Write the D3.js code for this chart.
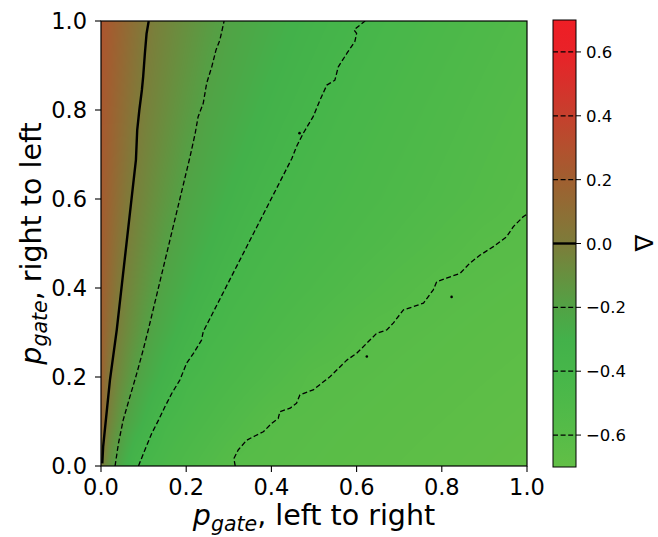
<!DOCTYPE html>
<html><head><meta charset="utf-8">
<script src="https://cdn.jsdelivr.net/npm/d3@7"></script>
<style>body{margin:0;background:#fff} svg{display:block}</style>
</head><body>
<svg id="chart" width="658" height="537"></svg>
<script>
// ---- data ----
// heat-map grid: columns xs, rows ys, values[row][col]
const xs = [0,0.02,0.04,0.06,0.08,0.1,0.125,0.15,0.2,0.25,0.3,0.35,0.4,0.45,0.5,0.55,0.6,0.65,0.7,0.8,0.9,1.0];
const ys = [0,0.1,0.2,0.3,0.4,0.5,0.6,0.7,0.8,0.9,1.0];
const row00 = [0,-0.121,-0.225,-0.298,-0.371,-0.411,-0.433,-0.455,-0.499,-0.543,-0.587,-0.605,-0.611,-0.618,-0.624,-0.631,-0.637,-0.644,-0.651,-0.664,-0.677,-0.69];
const row01 = [0.17,-0.037,-0.122,-0.204,-0.252,-0.301,-0.361,-0.407,-0.446,-0.484,-0.523,-0.561,-0.6,-0.606,-0.613,-0.619,-0.625,-0.631,-0.638,-0.65,-0.663,-0.675];
const row02 = [0.19,0.022,-0.057,-0.122,-0.187,-0.229,-0.275,-0.32,-0.404,-0.435,-0.467,-0.499,-0.53,-0.562,-0.594,-0.605,-0.611,-0.617,-0.623,-0.635,-0.648,-0.66];
const row03 = [0.2,0.082,-0.016,-0.069,-0.122,-0.175,-0.223,-0.259,-0.332,-0.402,-0.427,-0.453,-0.479,-0.505,-0.53,-0.556,-0.582,-0.602,-0.608,-0.62,-0.633,-0.645];
const row04 = [0.21,0.117,0.024,-0.033,-0.078,-0.122,-0.178,-0.218,-0.279,-0.339,-0.4,-0.421,-0.443,-0.464,-0.485,-0.506,-0.528,-0.549,-0.57,-0.604,-0.616,-0.628];
const row05 = [0.22,0.142,0.064,-0.007,-0.045,-0.084,-0.132,-0.18,-0.241,-0.293,-0.345,-0.397,-0.417,-0.435,-0.453,-0.471,-0.49,-0.508,-0.526,-0.562,-0.598,-0.61];
const row06 = [0.23,0.162,0.094,0.026,-0.021,-0.054,-0.097,-0.139,-0.213,-0.258,-0.304,-0.349,-0.395,-0.414,-0.431,-0.447,-0.464,-0.48,-0.497,-0.529,-0.562,-0.595];
const row07 = [0.24,0.179,0.119,0.058,-0.001,-0.032,-0.069,-0.107,-0.183,-0.231,-0.272,-0.312,-0.352,-0.393,-0.414,-0.43,-0.447,-0.464,-0.48,-0.513,-0.547,-0.58];
const row08 = [0.25,0.195,0.139,0.084,0.029,-0.013,-0.047,-0.081,-0.15,-0.209,-0.246,-0.282,-0.319,-0.355,-0.391,-0.413,-0.43,-0.447,-0.464,-0.497,-0.531,-0.565];
const row09 = [0.26,0.209,0.158,0.107,0.055,0.004,-0.029,-0.06,-0.122,-0.184,-0.225,-0.258,-0.291,-0.324,-0.357,-0.39,-0.412,-0.429,-0.446,-0.48,-0.514,-0.548];
const row10 = [0.27,0.222,0.174,0.127,0.079,0.031,-0.014,-0.042,-0.099,-0.157,-0.207,-0.238,-0.268,-0.298,-0.328,-0.359,-0.389,-0.411,-0.428,-0.462,-0.496,-0.53];
const values = [row00,row01,row02,row03,row04,row05,row06,row07,row08,row09,row10];

// contour lines [x, y]
const contour0 = [[0.003,0.006],[0.005,0.043],[0.021,0.193],[0.037,0.306],[0.082,0.688],[0.085,0.755],[0.090,0.800],[0.096,0.845],[0.099,0.875],[0.103,0.927],[0.107,0.972],[0.112,1.0]];
const contourM02 = [[0.033,0.0],[0.041,0.051],[0.052,0.103],[0.068,0.156],[0.084,0.208],[0.099,0.261],[0.111,0.306],[0.209,0.695],[0.221,0.747],[0.228,0.785],[0.240,0.815],[0.248,0.860],[0.260,0.897],[0.270,0.935],[0.279,0.957],[0.289,1.0]];
const contourM04 = [[0.088,0.0],[0.103,0.036],[0.119,0.073],[0.135,0.103],[0.150,0.133],[0.166,0.163],[0.185,0.193],[0.201,0.231],[0.217,0.253],[0.236,0.283],[0.240,0.302],[0.448,0.691],[0.459,0.718],[0.475,0.748],[0.498,0.785],[0.514,0.822],[0.530,0.856],[0.549,0.867],[0.557,0.897],[0.577,0.927],[0.596,0.954],[0.600,0.972],[0.594,0.980],[0.608,0.991],[0.620,1.0]];
const contourM06 = [[0.315,0.0],[0.312,0.017],[0.322,0.036],[0.342,0.058],[0.358,0.066],[0.381,0.077],[0.401,0.096],[0.416,0.107],[0.420,0.122],[0.444,0.130],[0.459,0.141],[0.467,0.160],[0.498,0.171],[0.538,0.201],[0.577,0.238],[0.600,0.253],[0.624,0.276],[0.647,0.298],[0.671,0.306],[0.686,0.321],[0.710,0.351],[0.733,0.358],[0.757,0.366],[0.780,0.396],[0.788,0.414],[0.811,0.422],[0.843,0.433],[0.866,0.456],[0.890,0.474],[0.921,0.493],[0.952,0.515],[0.968,0.538],[0.991,0.560],[1.0,0.566]];
const contourDots = [[0.624,0.246],[0.823,0.380],[0.466,0.748]];
const contourLevels = [0, -0.2, -0.4, -0.6];
const contourLines = [contour0, contourM02, contourM04, contourM06];

const cbarLevels = [-0.6,-0.4,-0.2,0,0.2,0.4,0.6];
const cbarTicks = [-0.6,-0.4,-0.2,0,0.2,0.4,0.6];
const xTicks = [0,0.2,0.4,0.6,0.8,1.0];
const yTicks = [0,0.2,0.4,0.6,0.8,1.0];
const cmapValues = [-0.7,-0.6,-0.5,-0.4,-0.3,-0.2,-0.1,0,0.1,0.2,0.3,0.4,0.5,0.6,0.7];
const cmapColors = ["#62bf46","#57bc48","#4eb949","#46b64a","#43b14a","#52a245","#67903f","#7d7c3a","#8e6e35","#a05f30","#b3502e","#c5402d","#d8302b","#e92228","#ee1e25"];
const xLabelMain = "p", xLabelSub = "gate", xLabelRest = ", left to right";
const yLabelMain = "p", yLabelSub = "gate", yLabelRest = ", right to left";
const cbarLabel = "Δ";

// ---- layout ----
const L = 101, R = 527, T = 21, B = 466;
const x = d3.scaleLinear([0,1],[L,R]);
const y = d3.scaleLinear([0,1],[B,T]);
const color = d3.scaleLinear(cmapValues, cmapColors).interpolate(d3.interpolateRgb).clamp(true);
const svg = d3.select("#chart");
const font = "DejaVu Sans, sans-serif";

function field(px, py){
  px = Math.max(0, Math.min(1, px)); py = Math.max(0, Math.min(1, py));
  let i = d3.bisectRight(xs, px) - 1; i = Math.max(0, Math.min(xs.length-2, i));
  let j = d3.bisectRight(ys, py) - 1; j = Math.max(0, Math.min(ys.length-2, j));
  const tx = (px - xs[i])/(xs[i+1]-xs[i]), ty = (py - ys[j])/(ys[j+1]-ys[j]);
  const a = values[j][i]*(1-tx) + values[j][i+1]*tx;
  const b = values[j+1][i]*(1-tx) + values[j+1][i+1]*tx;
  return a*(1-ty) + b*ty;
}

// heatmap raster
const pw = R-L, ph = B-T;
const cv = document.createElement("canvas"); cv.width = pw; cv.height = ph;
const ctx = cv.getContext("2d");
const img = ctx.createImageData(pw, ph);
for (let r = 0; r < ph; r++) {
  const dy = y.invert(T + r + 0.5);
  for (let c = 0; c < pw; c++) {
    const dx = x.invert(L + c + 0.5);
    const col = d3.rgb(color(field(dx, dy)));
    const k = (r*pw + c)*4;
    img.data[k]=col.r; img.data[k+1]=col.g; img.data[k+2]=col.b; img.data[k+3]=255;
  }
}
ctx.putImageData(img, 0, 0);
svg.append("image").attr("x", L).attr("y", T).attr("width", pw).attr("height", ph)
  .attr("preserveAspectRatio","none").attr("href", cv.toDataURL());

// contour lines
svg.append("clipPath").attr("id","pclip").append("rect").attr("x",L).attr("y",T).attr("width",pw).attr("height",ph);
const line = d3.line().x(d => x(d[0])).y(d => y(d[1])).curve(d3.curveLinear);
const gc = svg.append("g").attr("clip-path","url(#pclip)");
gc.selectAll("path").data(contourLines).join("path")
  .attr("d", line).attr("fill","none").attr("stroke","#000")
  .attr("stroke-linejoin","round")
  .attr("stroke-width", (d,i) => contourLevels[i] === 0 ? 2.4 : 1.3)
  .attr("stroke-dasharray", (d,i) => contourLevels[i] === 0 ? null : "5,2.6");
gc.selectAll("circle").data(contourDots).join("circle")
  .attr("cx", d => x(d[0])).attr("cy", d => y(d[1])).attr("r", 1.3).attr("fill","#000");

// frame
svg.append("rect").attr("x",L).attr("y",T).attr("width",pw).attr("height",ph)
  .attr("fill","none").attr("stroke","#000").attr("stroke-width",1.2);

// axes ticks
const tl = 6;
const gx = svg.append("g");
xTicks.forEach(t => {
  gx.append("line").attr("x1",x(t)).attr("x2",x(t)).attr("y1",B).attr("y2",B+tl).attr("stroke","#000").attr("stroke-width",1.1);
  gx.append("text").attr("x",x(t)).attr("y",B+29).attr("text-anchor","middle")
    .attr("font-family",font).attr("font-size",22.5).text(d3.format(".1f")(t));
});
const gy = svg.append("g");
yTicks.forEach(t => {
  gy.append("line").attr("x1",L-tl).attr("x2",L).attr("y1",y(t)).attr("y2",y(t)).attr("stroke","#000").attr("stroke-width",1.1);
  gy.append("text").attr("x",L-tl-8).attr("y",y(t)+8).attr("text-anchor","end")
    .attr("font-family",font).attr("font-size",22.5).text(d3.format(".1f")(t));
});

// axis labels
function label(g, main, sub, rest, fs){
  const t = g.append("text").attr("text-anchor","middle").attr("font-family",font).attr("font-size",fs);
  t.append("tspan").attr("font-style","italic").text(main);
  t.append("tspan").attr("font-style","italic").attr("font-size",fs*0.72).attr("dy",fs*0.2).text(sub);
  t.append("tspan").attr("dy",-fs*0.2).text(rest);
  return t;
}
label(svg.append("g").attr("transform",`translate(${(L+R)/2},525)`), xLabelMain, xLabelSub, xLabelRest, 28.5);
label(svg.append("g").attr("transform",`translate(41,${(T+B)/2}) rotate(-90)`), yLabelMain, yLabelSub, yLabelRest, 28.5);

// colorbar
const CL = 553, CR = 576, CT = 20, CB = 467;
const cy = d3.scaleLinear([-0.7,0.7],[CB,CT]);
const grad = svg.append("defs").append("linearGradient").attr("id","cgrad")
  .attr("x1",0).attr("y1",1).attr("x2",0).attr("y2",0);
cmapValues.forEach((v,i) => grad.append("stop").attr("offset",(v+0.7)/1.4).attr("stop-color",cmapColors[i]));
svg.append("rect").attr("x",CL).attr("y",CT).attr("width",CR-CL).attr("height",CB-CT).attr("fill","url(#cgrad)");
cbarLevels.forEach(v => {
  svg.append("line").attr("x1",CL).attr("x2",CR).attr("y1",cy(v)).attr("y2",cy(v))
    .attr("stroke","#000").attr("stroke-width", v===0 ? 2.4 : 1.3)
    .attr("stroke-dasharray", v===0 ? null : "5,2.6");
});
svg.append("rect").attr("x",CL).attr("y",CT).attr("width",CR-CL).attr("height",CB-CT)
  .attr("fill","none").attr("stroke","#000").attr("stroke-width",1);
cbarTicks.forEach(v => {
  svg.append("line").attr("x1",CR).attr("x2",CR+5).attr("y1",cy(v)).attr("y2",cy(v)).attr("stroke","#000").attr("stroke-width",1);
  svg.append("text").attr("x",CR+10).attr("y",cy(v)+6).attr("font-family",font).attr("font-size",16.5)
    .text(d3.format(".1f")(v).replace("-","−"));
});
svg.append("text").attr("transform",`translate(635,243) rotate(90)`).attr("text-anchor","middle")
  .attr("font-family",font).attr("font-size",25).text(cbarLabel);
</script>
</body></html>
